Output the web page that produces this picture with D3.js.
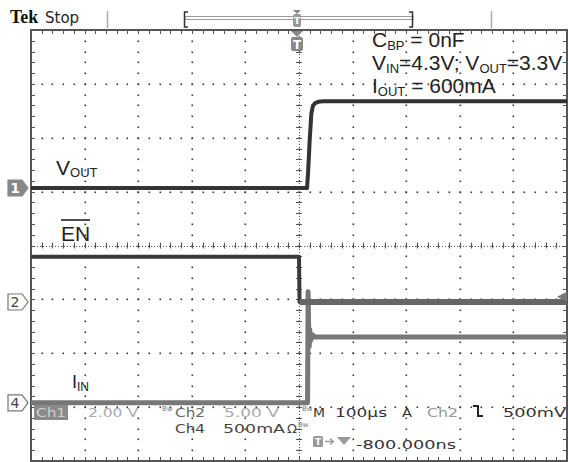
<!DOCTYPE html>
<html>
<head>
<meta charset="utf-8">
<script src="https://cdn.jsdelivr.net/npm/d3@7"></script>
<style>
  body { margin: 0; background: #fff; }
  svg { display: block; }
</style>
</head>
<body>
<div id="chart"></div>
<script>
// time base: 100 us/div, 10 divisions, trigger at centre
var timeDomain = [-500, 500];

// channel ground positions (div from centre) and scale per division
var chLabels = ["1", "2", "4"];
var chOffsets = [1.067, -1.049, -2.92];
var chScales = [2, 5, 500];          // V/div, V/div, mA/div
var trigLevel = 0.5;                 // V on Ch2

// Ch1: VOUT (V)
var voutT = [-500, 15, 17, 20, 23, 26, 30, 36, 45, 500];
var voutV = [0, 0, 0.6, 1.8, 2.75, 3.05, 3.15, 3.2, 3.22, 3.22];
// Ch2: EN (V)
var enT = [-500, 0, 1, 500];
var enV = [4.2, 4.2, 0, 0];
// Ch4: IIN (mA)
var iinT = [-500, 16, 17, 18, 19, 20, 22, 25, 30, 500];
var iinV = [0, 0, 1030, 700, 520, 680, 580, 630, 610, 610];

var noteLines = [
  [["C", ""], ["BP", "sub"], [" = 0nF", ""]],
  [["V", ""], ["IN", "sub"], ["=4.3V; V", ""], ["OUT", "sub"], ["=3.3V", ""]],
  [["I", ""], ["OUT", "sub"], [" = 600mA", ""]]
];

function init() {
  var w = 568, h = 462;
  var left = 31, right = 567, top = 30, bottom = 461;

  var svg = d3.select("#chart").append("svg")
      .attr("width", w).attr("height", h)
      .style("font-family", "'DejaVu Sans', sans-serif");

  var x = d3.scaleLinear().domain(timeDomain).range([left, right]);
  var yDiv = d3.scaleLinear().domain([-4, 4]).range([bottom, top]);

  function chY(ch, v) {
    return yDiv(chOffsets[ch] + v / chScales[ch]);
  }

  // ---- graticule ----
  var grid = svg.append("g");
  var majorX = d3.range(1, 10).map(function(i) { return -500 + i * 100; });
  var majorY = d3.range(-3, 4);
  var minorX = d3.range(0, 51).map(function(i) { return -500 + i * 20; });
  var minorY = d3.range(0, 41).map(function(i) { return -4 + i * 0.2; });

  majorX.forEach(function(t) {
    grid.selectAll(null).data(minorY).enter().append("rect")
      .attr("x", Math.round(x(t)) - 0.5).attr("y", function(d) { return Math.round(yDiv(d)) - 0.5; })
      .attr("width", 1.6).attr("height", 1.6).attr("fill", "#333");
  });
  majorY.forEach(function(dv) {
    grid.selectAll(null).data(minorX).enter().append("rect")
      .attr("x", function(d) { return Math.round(x(d)) - 0.5; }).attr("y", Math.round(yDiv(dv)) - 0.5)
      .attr("width", 1.6).attr("height", 1.6).attr("fill", "#333");
  });

  // centre lines with ticks
  grid.append("line").attr("x1", left).attr("x2", right)
    .attr("y1", Math.round(yDiv(0)) + 0.5).attr("y2", Math.round(yDiv(0)) + 0.5)
    .attr("stroke", "#555").attr("stroke-dasharray", "1,2");
  grid.append("line").attr("y1", top).attr("y2", bottom)
    .attr("x1", Math.round(x(0)) + 0.5).attr("x2", Math.round(x(0)) + 0.5)
    .attr("stroke", "#555").attr("stroke-dasharray", "1,2");
  grid.selectAll(null).data(minorX).enter().append("line")
    .attr("x1", function(d) { return Math.round(x(d)) + 0.5; })
    .attr("x2", function(d) { return Math.round(x(d)) + 0.5; })
    .attr("y1", yDiv(0) - 3).attr("y2", yDiv(0) + 3)
    .attr("stroke", "#555");
  grid.selectAll(null).data(minorY).enter().append("line")
    .attr("y1", function(d) { return Math.round(yDiv(d)) + 0.5; })
    .attr("y2", function(d) { return Math.round(yDiv(d)) + 0.5; })
    .attr("x1", x(0) - 3).attr("x2", x(0) + 3)
    .attr("stroke", "#555");

  // border ticks
  grid.selectAll(null).data(minorX).enter().append("line")
    .attr("x1", function(d) { return Math.round(x(d)) + 0.5; })
    .attr("x2", function(d) { return Math.round(x(d)) + 0.5; })
    .attr("y1", top).attr("y2", top + 4).attr("stroke", "#555");
  grid.selectAll(null).data(minorX).enter().append("line")
    .attr("x1", function(d) { return Math.round(x(d)) + 0.5; })
    .attr("x2", function(d) { return Math.round(x(d)) + 0.5; })
    .attr("y1", bottom - 4).attr("y2", bottom).attr("stroke", "#555");
  grid.selectAll(null).data(minorY).enter().append("line")
    .attr("y1", function(d) { return Math.round(yDiv(d)) + 0.5; })
    .attr("y2", function(d) { return Math.round(yDiv(d)) + 0.5; })
    .attr("x1", left).attr("x2", left + 4).attr("stroke", "#555");
  grid.selectAll(null).data(minorY).enter().append("line")
    .attr("y1", function(d) { return Math.round(yDiv(d)) + 0.5; })
    .attr("y2", function(d) { return Math.round(yDiv(d)) + 0.5; })
    .attr("x1", right - 4).attr("x2", right).attr("stroke", "#555");

  grid.append("rect").attr("x", left).attr("y", top)
    .attr("width", right - left).attr("height", bottom - top)
    .attr("fill", "none").attr("stroke", "#555").attr("stroke-width", 2);

  // ---- traces ----
  svg.append("clipPath").attr("id", "plotclip").append("rect")
    .attr("x", left).attr("y", top).attr("width", right - left).attr("height", bottom - top);
  var traces = svg.append("g").attr("clip-path", "url(#plotclip)");

  function drawTrace(ch, ts, vs, color, width) {
    var line = d3.line()
      .x(function(d, i) { return x(ts[i]); })
      .y(function(d, i) { return chY(ch, vs[i]); });
    traces.append("path").attr("d", line(vs))
      .attr("fill", "none").attr("stroke", color).attr("stroke-width", width)
      .attr("stroke-linejoin", "round");
  }
  drawTrace(2, iinT, iinV, "#777", 5);
  drawTrace(1, enT, enV, "#3a3a3a", 4);
  // EN low level shows more noise, lighter and wider
  var enLowT = enT.filter(function(t) { return t >= 1; });
  var enLowV = enV.slice(enT.length - enLowT.length);
  drawTrace(1, enLowT, enLowV, "#666", 6);
  drawTrace(0, voutT, voutV, "#333", 4);

  // trigger level marker (right edge)
  var ty = chY(1, trigLevel);
  svg.append("path")
    .attr("d", "M" + (right) + "," + (ty - 5) + "L" + (right - 10) + "," + ty + "L" + right + "," + (ty + 5) + "Z")
    .attr("fill", "#777");

  // ---- channel markers (left) ----
  chLabels.forEach(function(lab, i) {
    var cy = chY(i, 0);
    var filled = i === 0;
    svg.append("path")
      .attr("d", "M8," + (cy - 8) + "H22L28," + cy + "L22," + (cy + 8) + "H8Z")
      .attr("fill", filled ? "#888" : "#fff")
      .attr("stroke", filled ? "#888" : "#777").attr("stroke-width", 1.2);
    svg.append("text").attr("x", 15).attr("y", cy + 5)
      .attr("text-anchor", "middle").attr("font-size", 14)
      .attr("font-weight", filled ? "bold" : "normal")
      .attr("fill", filled ? "#fff" : "#444").text(lab);
  });

  // ---- trace labels ----
  var lab = svg.append("g").style("font-family", "'Liberation Sans', Arial, sans-serif").attr("fill", "#222");
  var t1 = lab.append("text").attr("x", 56).attr("y", 175).attr("font-size", 21);
  t1.append("tspan").text("V");
  t1.append("tspan").attr("font-size", 13).attr("dy", 2).text("OUT");
  lab.append("text").attr("x", 61).attr("y", 241).attr("font-size", 21).text("EN");
  lab.append("line").attr("x1", 61).attr("x2", 90).attr("y1", 220).attr("y2", 220)
    .attr("stroke", "#222").attr("stroke-width", 1.6);
  var t3 = lab.append("text").attr("x", 72).attr("y", 388).attr("font-size", 18);
  t3.append("tspan").text("I");
  t3.append("tspan").attr("font-size", 12).attr("dy", 3).text("IN");

  // ---- annotation block ----
  noteLines.forEach(function(parts, li) {
    var t = lab.append("text").attr("x", 372).attr("y", 47 + li * 23).attr("font-size", 21);
    var shifted = false;
    parts.forEach(function(p) {
      var sp = t.append("tspan").text(p[0]);
      if (p[1] === "sub") { sp.attr("font-size", 13).attr("dy", shifted ? 0 : 3); shifted = true; }
      else if (shifted) { sp.attr("dy", -3); shifted = false; }
    });
  });

  // ---- top status bar ----
  svg.append("text").attr("x", 10).attr("y", 23)
    .style("font-family", "'Liberation Serif', serif").attr("font-weight", "bold")
    .attr("font-size", 18).attr("fill", "#111").text("Tek");
  svg.append("text").attr("x", 45).attr("y", 23).attr("font-size", 15).attr("fill", "#222").text("Stop");
  svg.append("line").attr("x1", 107.5).attr("x2", 107.5).attr("y1", 11).attr("y2", 28)
    .attr("stroke", "#aaa").attr("stroke-width", 1.5);
  svg.append("line").attr("x1", 491.5).attr("x2", 491.5).attr("y1", 11).attr("y2", 28)
    .attr("stroke", "#aaa").attr("stroke-width", 1.5);
  svg.append("rect").attr("x", 185).attr("y", 16.5).attr("width", 228).attr("height", 3)
    .attr("fill", "none").attr("stroke", "#999");
  svg.append("path").attr("d", "M188,12H184.5V27H188M409,12H412.5V27H409")
    .attr("fill", "none").attr("stroke", "#333").attr("stroke-width", 1.5);
  var tx = x(0) - 2;
  svg.append("path").attr("d", "M" + (tx - 4) + ",10H" + (tx + 4) + "L" + tx + ",14Z").attr("fill", "#888");
  svg.append("rect").attr("x", tx - 4).attr("y", 14).attr("width", 8).attr("height", 13)
    .attr("rx", 2).attr("fill", "#999");
  svg.append("text").attr("x", tx).attr("y", 24).attr("text-anchor", "middle")
    .attr("font-size", 9).attr("font-weight", "bold").attr("fill", "#fff").text("T");

  // trigger position marker under top border
  svg.append("path").attr("d", "M" + (tx - 6) + ",31H" + (tx + 6) + "L" + tx + ",37Z").attr("fill", "#888");
  svg.append("rect").attr("x", tx - 6).attr("y", 37).attr("width", 12).attr("height", 14)
    .attr("rx", 2).attr("fill", "#888");
  svg.append("text").attr("x", tx).attr("y", 48.5).attr("text-anchor", "middle")
    .attr("font-size", 12).attr("font-weight", "bold").attr("fill", "#fff").text("T");

  // ---- readout ----
  var ro = svg.append("g").attr("font-size", 13);
  ro.append("rect").attr("x", 34).attr("y", 405).attr("width", 34).attr("height", 15).attr("fill", "#8a8a8a");
  var readouts = [
    ["Ch1", 36, 417, "#d0d0d0", 30],
    ["2.00 V", 88, 417, "#aaa", 50],
    ["Ch2", 175, 417, "#666", 30],
    ["5.00 V", 224, 417, "#aaa", 55],
    ["Ch4", 175, 433, "#444", 30],
    ["500mA", 223, 433, "#444", 62],
    ["\u03A9", 287, 433, "#444", 0],
    ["M", 313, 417, "#333", 12],
    ["100\u00B5s", 335, 417, "#333", 52],
    ["A", 402, 417, "#333", 10],
    ["Ch2", 427, 417, "#999", 31],
    ["500mV", 503, 417, "#333", 63],
    ["-800.000ns", 356, 449, "#333", 100]
  ];
  readouts.forEach(function(r) {
    var t = ro.append("text").attr("x", r[1]).attr("y", r[2]).attr("fill", r[3]).text(r[0]);
    if (r[4]) t.attr("textLength", r[4]).attr("lengthAdjust", "spacingAndGlyphs");
  });
  // small Bw marks
  [[162, 411], [302, 411], [298, 427]].forEach(function(p) {
    ro.append("text").attr("x", p[0]).attr("y", p[1]).attr("font-size", 7).attr("fill", "#777").text("Bw");
  });
  // falling edge symbol
  ro.append("path").attr("d", "M473,406H478V416H483")
    .attr("fill", "none").attr("stroke", "#222").attr("stroke-width", 2);
  // trigger delay icons
  ro.append("rect").attr("x", 313).attr("y", 436).attr("width", 10).attr("height", 11).attr("rx", 1.5).attr("fill", "#999");
  ro.append("text").attr("x", 318).attr("y", 445).attr("text-anchor", "middle").attr("font-size", 9)
    .attr("font-weight", "bold").attr("fill", "#fff").text("T");
  ro.append("path").attr("d", "M325,441.5H333M330,438.5L333.5,441.5L330,444.5")
    .attr("fill", "none").attr("stroke", "#999").attr("stroke-width", 1.3);
  ro.append("path").attr("d", "M337,437H351L344,445Z").attr("fill", "#999");
}

window.onload = init;
</script>
</body>
</html>
